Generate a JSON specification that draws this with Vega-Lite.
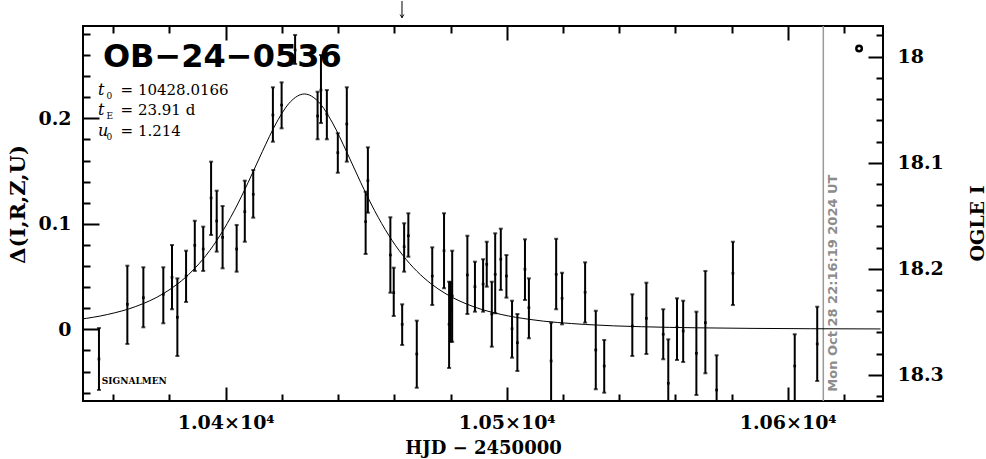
{
  "$schema": "https://vega.github.io/schema/vega-lite/v6.json",
  "width": 800,
  "height": 375,
  "autosize": {"type": "none"},
  "padding": {"left": 83, "top": 26, "right": 103, "bottom": 58},
  "background": "white",
  "config": {
    "view": {"stroke": "#000", "strokeWidth": 2},
    "axis": {
      "grid": false, "domain": false, "tickColor": "#000", "tickWidth": 2,
      "labelColor": "#000", "titleColor": "#000",
      "labelFont": "DejaVu Serif", "titleFont": "DejaVu Serif",
      "labelFontWeight": "bold", "titleFontWeight": "bold",
      "labelFontSize": 19, "titleFontSize": 19
    }
  },
  "datasets": {
    "obs": [
      {"t":10354.9,"lo":-0.0575,"hi":0.0012,"c":-0.0282},
      {"t":10365.0,"lo":-0.0139,"hi":0.0603,"c":0.0237},
      {"t":10370.7,"lo":0.0019,"hi":0.0588,"c":0.0300},
      {"t":10377.8,"lo":0.0057,"hi":0.0588,"c":0.0332},
      {"t":10380.9,"lo":0.0190,"hi":0.0799,"c":0.0493},
      {"t":10382.8,"lo":-0.0253,"hi":0.0483,"c":0.0114},
      {"t":10385.9,"lo":0.0259,"hi":0.0745,"c":0.0505},
      {"t":10389.0,"lo":0.0553,"hi":0.1029,"c":0.0796},
      {"t":10392.0,"lo":0.0553,"hi":0.0973,"c":0.0761},
      {"t":10394.8,"lo":0.0894,"hi":0.1589,"c":0.1245},
      {"t":10396.8,"lo":0.0736,"hi":0.1314,"c":0.1027},
      {"t":10398.9,"lo":0.0578,"hi":0.1169,"c":0.0872},
      {"t":10403.9,"lo":0.0546,"hi":0.0989,"c":0.0761},
      {"t":10406.8,"lo":0.0830,"hi":0.1409,"c":0.1115},
      {"t":10409.8,"lo":0.1058,"hi":0.1510,"c":0.1280},
      {"t":10416.8,"lo":0.1778,"hi":0.2294,"c":0.2031},
      {"t":10419.9,"lo":0.1905,"hi":0.2341,"c":0.2126},
      {"t":10424.7,"lo":0.2515,"hi":0.2790,"c":0.2647},
      {"t":10432.7,"lo":0.1801,"hi":0.2252,"c":0.2022},
      {"t":10433.9,"lo":0.1955,"hi":0.2600,"c":0.2268},
      {"t":10436.0,"lo":0.1801,"hi":0.2268,"c":0.2041},
      {"t":10439.9,"lo":0.1484,"hi":0.1858,"c":0.1674},
      {"t":10443.1,"lo":0.1589,"hi":0.2294,"c":0.1946},
      {"t":10449.8,"lo":0.0714,"hi":0.1304,"c":0.1020},
      {"t":10450.6,"lo":0.1105,"hi":0.1725,"c":0.1409},
      {"t":10458.6,"lo":0.0347,"hi":0.1062,"c":0.0704},
      {"t":10459.8,"lo":0.0126,"hi":0.0584,"c":0.0347},
      {"t":10462.8,"lo":-0.0149,"hi":0.0237,"c":0.0047},
      {"t":10463.5,"lo":0.0546,"hi":0.1005,"c":0.0783},
      {"t":10465.0,"lo":0.0688,"hi":0.1100,"c":0.0887},
      {"t":10468.0,"lo":-0.0554,"hi":0.0082,"c":-0.0234},
      {"t":10473.5,"lo":0.0230,"hi":0.0777,"c":0.0505},
      {"t":10477.7,"lo":0.0389,"hi":0.1100,"c":0.0745},
      {"t":10479.5,"lo":-0.0367,"hi":0.0451,"c":0.0047},
      {"t":10480.1,"lo":-0.0120,"hi":0.0448,"c":0.0183},
      {"t":10480.6,"lo":-0.0118,"hi":0.0745,"c":0.0316},
      {"t":10486.0,"lo":0.0145,"hi":0.0887,"c":0.0515},
      {"t":10488.7,"lo":0.0167,"hi":0.0641,"c":0.0404},
      {"t":10491.6,"lo":0.0167,"hi":0.0664,"c":0.0429},
      {"t":10492.9,"lo":0.0404,"hi":0.0830,"c":0.0616},
      {"t":10494.7,"lo":-0.0165,"hi":0.0451,"c":0.0145},
      {"t":10495.9,"lo":0.0152,"hi":0.0910,"c":0.0521},
      {"t":10497.9,"lo":0.0373,"hi":0.0954,"c":0.0664},
      {"t":10499.9,"lo":0.0300,"hi":0.0704,"c":0.0505},
      {"t":10501.9,"lo":-0.0269,"hi":0.0271,"c":0.0006},
      {"t":10503.8,"lo":-0.0395,"hi":0.0145,"c":-0.0127},
      {"t":10506.5,"lo":0.0278,"hi":0.0853,"c":0.0569},
      {"t":10507.9,"lo":-0.0085,"hi":0.0483,"c":0.0205},
      {"t":10515.8,"lo":-0.0720,"hi":0.0063,"c":-0.0300},
      {"t":10517.6,"lo":0.0190,"hi":0.0858,"c":0.0521},
      {"t":10519.7,"lo":0.0047,"hi":0.0536,"c":0.0294},
      {"t":10527.9,"lo":0.0063,"hi":0.0635,"c":0.0351},
      {"t":10531.7,"lo":-0.0569,"hi":0.0176,"c":-0.0196},
      {"t":10534.7,"lo":-0.0601,"hi":-0.0101,"c":-0.0348},
      {"t":10544.7,"lo":-0.0253,"hi":0.0332,"c":0.0031},
      {"t":10549.7,"lo":-0.0234,"hi":0.0442,"c":0.0104},
      {"t":10555.7,"lo":-0.0284,"hi":0.0190,"c":-0.0047},
      {"t":10557.5,"lo":-0.0760,"hi":-0.0095,"c":-0.0512},
      {"t":10560.6,"lo":-0.0291,"hi":0.0294,"c":0.0022},
      {"t":10562.8,"lo":-0.0310,"hi":0.0271,"c":-0.0016},
      {"t":10567.5,"lo":-0.0623,"hi":0.0167,"c":-0.0227},
      {"t":10570.7,"lo":-0.0417,"hi":0.0553,"c":0.0063},
      {"t":10574.7,"lo":-0.0800,"hi":-0.0246,"c":-0.0575},
      {"t":10580.5,"lo":0.0230,"hi":0.0830,"c":0.0531},
      {"t":10602.5,"lo":-0.0780,"hi":-0.0047,"c":-0.0348},
      {"t":10610.5,"lo":-0.0490,"hi":0.0214,"c":-0.0139}
    ],
    "model": [
      {"t":10348.02,"d":0.00943},{"t":10358.02,"d":0.01408},{"t":10368.02,"d":0.02163},
      {"t":10378.02,"d":0.03416},{"t":10383.02,"d":0.04329},{"t":10388.02,"d":0.05507},
      {"t":10393.02,"d":0.07015},{"t":10398.02,"d":0.08913},{"t":10403.02,"d":0.11233},
      {"t":10408.02,"d":0.13935},{"t":10413.02,"d":0.16836},{"t":10418.02,"d":0.19561},
      {"t":10423.02,"d":0.21562},{"t":10428.02,"d":0.22304},{"t":10433.02,"d":0.21562},
      {"t":10438.02,"d":0.19561},{"t":10443.02,"d":0.16836},{"t":10448.02,"d":0.13935},
      {"t":10453.02,"d":0.11233},{"t":10458.02,"d":0.08913},{"t":10463.02,"d":0.07015},
      {"t":10468.02,"d":0.05507},{"t":10473.02,"d":0.04329},{"t":10478.02,"d":0.03416},
      {"t":10488.02,"d":0.02163},{"t":10498.02,"d":0.01408},{"t":10508.02,"d":0.00943},
      {"t":10528.02,"d":0.00458},{"t":10548.02,"d":0.00244},{"t":10568.02,"d":0.00140},
      {"t":10588.02,"d":0.00086},{"t":10608.02,"d":0.00055},{"t":10633.02,"d":0.00034}
    ]
  },
  "resolve": {"scale": {"y": "independent"}, "axis": {"x": "independent", "y": "independent"}},
  "layer": [
    {
      "data": {"values": [{"t": 10612.67}]},
      "mark": {"type": "rule", "color": "#9a9a9a", "strokeWidth": 1.5},
      "encoding": {
        "x": {"field": "t", "type": "quantitative", "scale": {"domain": [10349.22, 10633.91], "nice": false, "zero": false}, "axis": null}
      }
    },
    {
      "data": {"name": "obs"},
      "mark": {"type": "rule", "color": "#000", "strokeWidth": 2, "clip": true},
      "encoding": {
        "x": {"field": "t", "type": "quantitative", "scale": {"domain": [10349.22, 10633.91], "nice": false, "zero": false},
          "axis": {"orient": "bottom", "values": [10400, 10500, 10600], "tickSize": -14, "labelPadding": 26,
            "labelExpr": "format(datum.value/10000, '.2f') + '×10⁴'", "labelFlush": false, "labelOverlap": false,
            "title": "HJD  −  2450000", "titleFontSize": 18, "titleBaseline": "alphabetic", "titleY": 52}},
        "y": {"field": "lo", "type": "quantitative", "scale": {"domain": [-0.06796, 0.28749], "nice": false, "zero": false},
          "axis": {"orient": "left", "values": [0, 0.1, 0.2], "tickSize": -16, "labelPadding": 28,
            "labelExpr": "datum.value == 0 ? '0' : format(datum.value, '.1f')", "labelFlush": false,
            "title": "Δ(I,R,Z,U)", "titleFontSize": 21, "titleAngle": 270, "titleBaseline": "alphabetic", "titleX": -59, "titleY": 178}},
        "y2": {"field": "hi"}
      }
    },
    {
      "data": {"name": "obs"},
      "mark": {"type": "tick", "orient": "horizontal", "size": 4, "thickness": 2, "color": "#000", "clip": true},
      "encoding": {
        "x": {"field": "t", "type": "quantitative", "scale": {"domain": [10349.22, 10633.91], "nice": false, "zero": false},
          "axis": {"orient": "bottom", "values": [10360, 10380, 10420, 10440, 10460, 10480, 10520, 10540, 10560, 10580, 10620], "tickSize": -7, "labels": false, "title": null}},
        "y": {"field": "lo", "type": "quantitative", "scale": {"domain": [-0.06796, 0.28749], "nice": false, "zero": false},
          "axis": {"orient": "left", "values": [-0.06, -0.04, -0.02, 0.02, 0.04, 0.06, 0.08, 0.12, 0.14, 0.16, 0.18, 0.22, 0.24, 0.26, 0.28], "tickSize": -7, "labels": false, "title": null}}
      }
    },
    {
      "data": {"name": "obs"},
      "mark": {"type": "tick", "orient": "horizontal", "size": 4, "thickness": 2, "color": "#000", "clip": true},
      "encoding": {
        "x": {"field": "t", "type": "quantitative", "scale": {"domain": [10349.22, 10633.91], "nice": false, "zero": false},
          "axis": {"orient": "top", "values": [10400, 10500, 10600], "tickSize": -14, "labels": false, "title": null}},
        "y": {"field": "hi", "type": "quantitative", "scale": {"domain": [-0.06796, 0.28749], "nice": false, "zero": false}, "axis": null}
      }
    },
    {
      "data": {"name": "obs"},
      "mark": {"type": "point", "shape": "square", "size": 7, "filled": true, "color": "#000", "opacity": 1, "clip": true},
      "encoding": {
        "x": {"field": "t", "type": "quantitative", "scale": {"domain": [10349.22, 10633.91], "nice": false, "zero": false},
          "axis": {"orient": "top", "values": [10360, 10380, 10420, 10440, 10460, 10480, 10520, 10540, 10560, 10580, 10620], "tickSize": -7, "labels": false, "title": null}},
        "y": {"field": "c", "type": "quantitative", "scale": {"domain": [-0.06796, 0.28749], "nice": false, "zero": false}, "axis": null}
      }
    },
    {
      "data": {"name": "model"},
      "mark": {"type": "line", "color": "#000", "strokeWidth": 1, "interpolate": "monotone", "clip": true},
      "encoding": {
        "x": {"field": "t", "type": "quantitative", "scale": {"domain": [10349.22, 10633.91], "nice": false, "zero": false}, "axis": null},
        "y": {"field": "d", "type": "quantitative", "scale": {"domain": [-0.06796, 0.28749], "nice": false, "zero": false}, "axis": null}
      }
    },
    {
      "data": {"values": [{"m": 18}]},
      "mark": {"type": "point", "opacity": 0},
      "encoding": {
        "y": {"field": "m", "type": "quantitative", "scale": {"domain": [17.97104, 18.3248], "reverse": true, "nice": false, "zero": false},
          "axis": {"orient": "right", "values": [18, 18.1, 18.2, 18.3], "tickSize": -15, "labelPadding": 29,
            "labelExpr": "datum.value == 18 ? '18' : format(datum.value, '.1f')", "labelFlush": false,
            "title": "OGLE I", "titleAngle": 270, "titleBaseline": "alphabetic", "titleX": 100, "titleY": 197}}
      }
    },
    {
      "data": {"values": [{"m": 18}]},
      "mark": {"type": "point", "opacity": 0},
      "encoding": {
        "y": {"field": "m", "type": "quantitative", "scale": {"domain": [17.97104, 18.3248], "reverse": true, "nice": false, "zero": false},
          "axis": {"orient": "right", "values": [17.98, 18.02, 18.04, 18.06, 18.08, 18.12, 18.14, 18.16, 18.18, 18.22, 18.24, 18.26, 18.28, 18.32], "tickSize": -7, "labels": false, "title": null}}
      }
    },
    {
      "data": {"values": [{"t": 10356.3, "d": 0.2486, "label": "OB−24−0536"}]},
      "mark": {"type": "text", "font": "DejaVu Sans", "fontSize": 32, "fontWeight": "bold", "align": "left", "baseline": "alphabetic", "color": "#000"},
      "encoding": {
        "x": {"field": "t", "type": "quantitative", "scale": {"domain": [10349.22, 10633.91], "nice": false, "zero": false}, "axis": null},
        "y": {"field": "d", "type": "quantitative", "scale": {"domain": [-0.06796, 0.28749], "nice": false, "zero": false}, "axis": null},
        "text": {"field": "label"}
      }
    },
    {
      "data": {"values": [{"t": 10354.6, "d": 0.2220, "label": "t"}, {"t": 10354.6, "d": 0.2030, "label": "t"}, {"t": 10354.6, "d": 0.1832, "label": "u"}]},
      "mark": {"type": "text", "font": "DejaVu Serif", "fontSize": 16, "fontStyle": "italic", "align": "left", "baseline": "alphabetic", "color": "#000"},
      "encoding": {
        "x": {"field": "t", "type": "quantitative", "scale": {"domain": [10349.22, 10633.91], "nice": false, "zero": false}, "axis": null},
        "y": {"field": "d", "type": "quantitative", "scale": {"domain": [-0.06796, 0.28749], "nice": false, "zero": false}, "axis": null},
        "text": {"field": "label"}
      }
    },
    {
      "data": {"values": [{"t": 10357.6, "d": 0.2187, "label": "0"}, {"t": 10357.6, "d": 0.1997, "label": "E"}, {"t": 10357.6, "d": 0.1799, "label": "0"}]},
      "mark": {"type": "text", "font": "DejaVu Serif", "fontSize": 9, "align": "left", "baseline": "alphabetic", "color": "#000"},
      "encoding": {
        "x": {"field": "t", "type": "quantitative", "scale": {"domain": [10349.22, 10633.91], "nice": false, "zero": false}, "axis": null},
        "y": {"field": "d", "type": "quantitative", "scale": {"domain": [-0.06796, 0.28749], "nice": false, "zero": false}, "axis": null},
        "text": {"field": "label"}
      }
    },
    {
      "data": {"values": [{"t": 10362.6, "d": 0.2220, "label": "= 10428.0166"}, {"t": 10362.6, "d": 0.2030, "label": "= 23.91 d"}, {"t": 10362.6, "d": 0.1832, "label": "= 1.214"}]},
      "mark": {"type": "text", "font": "DejaVu Serif", "fontSize": 15, "align": "left", "baseline": "alphabetic", "color": "#000"},
      "encoding": {
        "x": {"field": "t", "type": "quantitative", "scale": {"domain": [10349.22, 10633.91], "nice": false, "zero": false}, "axis": null},
        "y": {"field": "d", "type": "quantitative", "scale": {"domain": [-0.06796, 0.28749], "nice": false, "zero": false}, "axis": null},
        "text": {"field": "label"}
      }
    },
    {
      "data": {"values": [{"t": 10355.9, "d": -0.0514, "label": "SIGNALMEN"}]},
      "mark": {"type": "text", "font": "DejaVu Serif", "fontSize": 9, "fontWeight": "bold", "align": "left", "baseline": "alphabetic", "color": "#000"},
      "encoding": {
        "x": {"field": "t", "type": "quantitative", "scale": {"domain": [10349.22, 10633.91], "nice": false, "zero": false}, "axis": null},
        "y": {"field": "d", "type": "quantitative", "scale": {"domain": [-0.06796, 0.28749], "nice": false, "zero": false}, "axis": null},
        "text": {"field": "label"}
      }
    },
    {
      "data": {"values": [{"t": 10617.5, "d": -0.0591, "label": "Mon Oct 28 22:16:19 2024 UT"}]},
      "mark": {"type": "text", "font": "DejaVu Sans", "fontSize": 13, "fontWeight": "bold", "angle": 270, "align": "left", "baseline": "alphabetic", "color": "#8c8c8c"},
      "encoding": {
        "x": {"field": "t", "type": "quantitative", "scale": {"domain": [10349.22, 10633.91], "nice": false, "zero": false}, "axis": null},
        "y": {"field": "d", "type": "quantitative", "scale": {"domain": [-0.06796, 0.28749], "nice": false, "zero": false}, "axis": null},
        "text": {"field": "label"}
      }
    },
    {
      "data": {"values": [{"t": 10462.74, "top": 0.3112, "tip": 0.2951}]},
      "mark": {"type": "rule", "color": "#000", "strokeWidth": 1, "clip": false},
      "encoding": {
        "x": {"field": "t", "type": "quantitative", "scale": {"domain": [10349.22, 10633.91], "nice": false, "zero": false}, "axis": null},
        "y": {"field": "top", "type": "quantitative", "scale": {"domain": [-0.06796, 0.28749], "nice": false, "zero": false}, "axis": null},
        "y2": {"field": "tip"}
      }
    },
    {
      "data": {"values": [{"t": 10462.74, "tip": 0.2955}]},
      "mark": {"type": "point", "shape": "M -1 -1.6 L 0 0 L 1 -1.6", "size": 14, "filled": false, "strokeWidth": 1, "color": "#000", "opacity": 1, "clip": false},
      "encoding": {
        "x": {"field": "t", "type": "quantitative", "scale": {"domain": [10349.22, 10633.91], "nice": false, "zero": false}, "axis": null},
        "y": {"field": "tip", "type": "quantitative", "scale": {"domain": [-0.06796, 0.28749], "nice": false, "zero": false}, "axis": null}
      }
    },
    {
      "data": {"values": [{"t": 10625.4, "d": 0.2662}]},
      "mark": {"type": "point", "shape": "circle", "size": 30, "filled": false, "strokeWidth": 2.5, "color": "#000", "opacity": 1},
      "encoding": {
        "x": {"field": "t", "type": "quantitative", "scale": {"domain": [10349.22, 10633.91], "nice": false, "zero": false}, "axis": null},
        "y": {"field": "d", "type": "quantitative", "scale": {"domain": [-0.06796, 0.28749], "nice": false, "zero": false}, "axis": null}
      }
    }
  ]
}
